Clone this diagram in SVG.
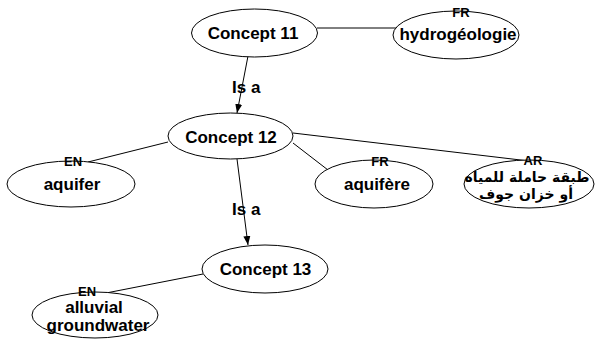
<svg xmlns="http://www.w3.org/2000/svg" width="595" height="341" viewBox="0 0 595 341">
<defs>
<marker id="arr" markerWidth="10" markerHeight="8" refX="9" refY="4" orient="auto" markerUnits="userSpaceOnUse">
<path d="M0,0.5 L9,4 L0,7.5 Z" fill="#000"/>
</marker>
<style>
.node ellipse{fill:#fff;stroke:#000;stroke-width:1}
.t{font-family:"Liberation Sans",Arial,sans-serif;font-weight:bold;font-size:17px;text-anchor:middle;fill:#000}
.lang{font-family:"Liberation Sans",Arial,sans-serif;font-weight:bold;font-size:13px;text-anchor:middle;fill:#000}
.ar{font-family:"DejaVu Sans",sans-serif;font-weight:bold;font-size:14px;text-anchor:middle;fill:#000}
.edge line{stroke:#000;stroke-width:1}
.rel{font-family:"Liberation Sans",Arial,sans-serif;font-weight:bold;font-size:17px;fill:#000}
</style>
</defs>
<rect width="595" height="341" fill="#fff"/>
<g id="connectors" class="edge">
<line x1="317" y1="28" x2="396" y2="28"/>
<line x1="248" y1="56" x2="237" y2="113" marker-end="url(#arr)"/>
<line x1="168" y1="142" x2="88" y2="162"/>
<line x1="293" y1="143" x2="328" y2="170"/>
<line x1="293" y1="133" x2="529" y2="161"/>
<line x1="237" y1="159" x2="248" y2="245" marker-end="url(#arr)"/>
<line x1="203" y1="274" x2="101" y2="294"/>
<text class="rel" x="232" y="93">Is a</text>
<text class="rel" x="232" y="215">Is a</text>
</g>
<g id="concept11" class="node">
<ellipse cx="254.5" cy="33" rx="63" ry="24"/>
<text class="t" x="253" y="39">Concept 11</text>
</g>
<g id="hydrogeologie" class="node">
<ellipse cx="456" cy="35" rx="63" ry="24"/>
<text class="t" x="458" y="40">hydrogéologie</text>
<text class="lang" x="461" y="17">FR</text>
</g>
<g id="concept12" class="node">
<ellipse cx="230.5" cy="136" rx="62.5" ry="23"/>
<text class="t" x="231" y="143">Concept 12</text>
</g>
<g id="aquifer" class="node">
<ellipse cx="71" cy="184" rx="64" ry="23"/>
<text class="t" x="72" y="190">aquifer</text>
<text class="lang" x="73" y="166">EN</text>
</g>
<g id="aquifere" class="node">
<ellipse cx="374" cy="184" rx="59" ry="24"/>
<text class="t" x="377" y="190">aquifère</text>
<text class="lang" x="380" y="166">FR</text>
</g>
<g id="ar-node" class="node">
<ellipse cx="529" cy="184" rx="65" ry="24"/>
<text class="ar" x="527" y="182">طبقة حاملة للمياه</text>
<text class="ar" x="526" y="199">أو خزان جوف</text>
<text class="lang" x="533" y="165">AR</text>
</g>
<g id="concept13" class="node">
<ellipse cx="265" cy="269" rx="63" ry="24"/>
<text class="t" x="265.5" y="275">Concept 13</text>
</g>
<g id="alluvial" class="node">
<ellipse cx="95" cy="315" rx="63" ry="23"/>
<text class="t" x="94" y="313">alluvial</text>
<text class="t" x="98" y="331">groundwater</text>
<text class="lang" x="87" y="296">EN</text>
</g>
</svg>
